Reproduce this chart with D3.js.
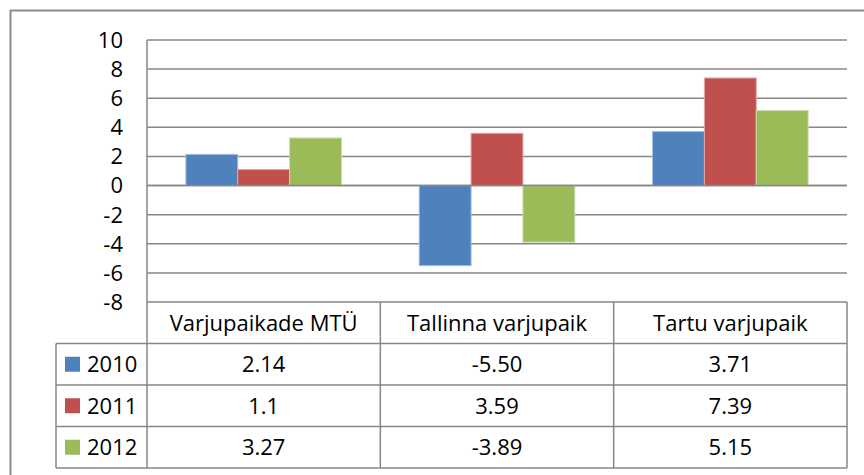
<!DOCTYPE html>
<html>
<head>
<meta charset="utf-8">
<script src="https://cdn.jsdelivr.net/npm/d3@7"></script>
<style>
  body { margin: 0; background: #fff; }
  text { font-family: "Open Sans", Lato, sans-serif; font-size: 22px; fill: #000; }
</style>
</head>
<body>
<div id="chart"></div>
<script>
let categories = ['Varjupaikade MTÜ', 'Tallinna varjupaik', 'Tartu varjupaik'];
let years = ['2010', '2011', '2012'];
let values2010 = [2.14, -5.50, 3.71];
let values2011 = [1.1, 3.59, 7.39];
let values2012 = [3.27, -3.89, 5.15];
let labels2010 = ['2.14', '-5.50', '3.71'];
let labels2011 = ['1.1', '3.59', '7.39'];
let labels2012 = ['3.27', '-3.89', '5.15'];
let yTicks = [-8, -6, -4, -2, 0, 2, 4, 6, 8, 10];
let colors = ['#4f81bd', '#c0504d', '#9bbb59'];
let strokes = ['#a3bddd', '#e0a5a3', '#c8dbae'];

let series = [
  { year: years[0], values: values2010, labels: labels2010 },
  { year: years[1], values: values2011, labels: labels2011 },
  { year: years[2], values: values2012, labels: labels2012 }
];

let width = 864, height = 475;
let plot = { left: 147, right: 847, top: 40, bottom: 302 };
let tableLeft = 56;
let rowH = 41.5;
let grid = '#878787';

let svg = d3.select('#chart')
  .append('svg')
  .attr('width', width)
  .attr('height', height);

// outer chart frame (cut off by the picture at right and bottom)
svg.append('path')
  .attr('d', 'M10.5,' + height + 'V10.5H' + width)
  .attr('fill', 'none')
  .attr('stroke', '#8c8c8c')
  .attr('stroke-width', 2);

let x0 = d3.scaleBand()
  .domain(categories)
  .range([plot.left, plot.right]);

let x1 = d3.scaleBand()
  .domain(years)
  .range([0, x0.bandwidth()])
  .paddingInner(0)
  .paddingOuter(0.75);

let y = d3.scaleLinear()
  .domain([-8, 10])
  .range([plot.bottom, plot.top]);

let z = d3.scaleOrdinal().domain(years).range(colors);
let zs = d3.scaleOrdinal().domain(years).range(strokes);

// gridlines
svg.append('g')
  .selectAll('line')
  .data(yTicks)
  .enter().append('line')
  .attr('x1', plot.left)
  .attr('x2', plot.right)
  .attr('y1', d => y(d))
  .attr('y2', d => y(d))
  .attr('stroke', grid)
  .attr('stroke-width', 1.5);

// y tick labels
svg.append('g')
  .selectAll('text')
  .data(yTicks)
  .enter().append('text')
  .attr('x', 123)
  .attr('y', d => y(d))
  .attr('dy', '0.36em')
  .attr('text-anchor', 'end')
  .text(d => d);

// bars
svg.append('g')
  .selectAll('g')
  .data(series)
  .enter().append('g')
  .attr('fill', d => z(d.year))
  .attr('stroke', d => zs(d.year))
  .selectAll('rect')
  .data(d => d.values.map((v, i) => ({ year: d.year, cat: categories[i], v })))
  .enter().append('rect')
  .attr('x', d => x0(d.cat) + x1(d.year))
  .attr('y', d => y(Math.max(0, d.v)))
  .attr('width', x1.bandwidth())
  .attr('height', d => Math.abs(y(d.v) - y(0)))
  .attr('stroke-width', 1);

// zero axis line on top
svg.append('line')
  .attr('x1', plot.left)
  .attr('x2', plot.right)
  .attr('y1', y(0))
  .attr('y2', y(0))
  .attr('stroke', grid)
  .attr('stroke-width', 1.5);

// data table
let table = svg.append('g')
  .attr('stroke', grid)
  .attr('stroke-width', 1.5);

let tableBottom = plot.bottom + rowH * 4;
let rowLines = d3.range(1, 5).map(i => plot.bottom + rowH * i);

table.selectAll('.hrow')
  .data(rowLines)
  .enter().append('line')
  .attr('x1', tableLeft)
  .attr('x2', plot.right)
  .attr('y1', d => d)
  .attr('y2', d => d);

let colLines = categories.map(c => x0(c)).concat([plot.right]);

table.selectAll('.vcol')
  .data(colLines)
  .enter().append('line')
  .attr('x1', d => d)
  .attr('x2', d => d)
  .attr('y1', (d, i) => i === 0 ? plot.top : plot.bottom)
  .attr('y2', tableBottom);

table.append('line')
  .attr('x1', tableLeft)
  .attr('x2', tableLeft)
  .attr('y1', plot.bottom + rowH)
  .attr('y2', tableBottom);

// category header
svg.append('g')
  .selectAll('text')
  .data(categories)
  .enter().append('text')
  .attr('x', d => x0(d) + x0.bandwidth() / 2)
  .attr('y', plot.bottom + rowH / 2)
  .attr('dy', '0.36em')
  .attr('text-anchor', 'middle')
  .text(d => d);

// series rows
let rows = svg.append('g')
  .selectAll('g')
  .data(series)
  .enter().append('g')
  .attr('transform', (d, i) => 'translate(0,' + (plot.bottom + rowH * (i + 1.5)) + ')');

rows.append('rect')
  .attr('x', 65)
  .attr('y', -7.5)
  .attr('width', 15)
  .attr('height', 15)
  .attr('fill', d => z(d.year));

rows.append('text')
  .attr('x', 87)
  .attr('dy', '0.36em')
  .text(d => d.year);

rows.selectAll('.val')
  .data(d => d.labels)
  .enter().append('text')
  .attr('x', (d, i) => x0(categories[i]) + x0.bandwidth() / 2)
  .attr('dy', '0.36em')
  .attr('text-anchor', 'middle')
  .text(d => d);
</script>
</body>
</html>
